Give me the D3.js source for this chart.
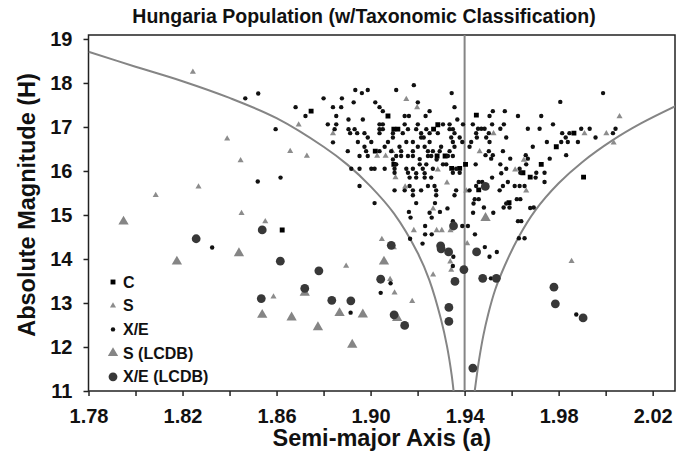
<!DOCTYPE html>
<html>
<head>
<meta charset="utf-8">
<script src="https://cdn.jsdelivr.net/npm/d3@7"></script>
<style>
  body { margin: 0; background: #fff; }
  svg text { font-family: "Liberation Sans", Arial, sans-serif; }
</style>
</head>
<body>
<div id="chart"></div>
<script>
// series values: [semi-major axis a, absolute magnitude H]
var seriesC = [
  [1.8747,17.36],[1.9074,17.25],[1.9099,16.95],[1.9116,16.95],[1.9268,16.95],[1.9286,17.05],
  [1.9020,16.45],[1.9099,16.15],[1.9283,16.34],[1.9317,16.34],[1.9345,16.06],[1.9379,16.06],
  [1.9450,17.27],[1.9865,16.86],[1.9790,16.55],[1.9726,16.15],[1.9679,15.86],[1.9648,15.96],
  [1.9906,15.86],[1.9404,16.15],[1.9589,15.28],[1.9460,15.57],[1.8624,14.66]
];
var seriesS = [
  [1.8244,18.25],[1.8390,16.73],[1.8447,16.24],[1.8268,15.64],[1.8086,15.45],[1.8658,16.45],
  [1.8729,16.34],[1.8694,17.05],[1.8840,16.85],[1.8451,15.04],[1.8552,14.85],[1.8587,13.14],
  [1.8896,13.84],[1.9048,14.45],[1.9083,13.54],[1.9102,13.23],[1.9099,14.26],[1.9177,13.04],
  [1.9266,13.64],[1.9184,14.65],[1.9281,14.65],[1.9303,14.65],[1.9340,14.65],[1.9266,15.14],
  [1.9339,13.94],[1.9343,13.75],[1.9411,14.35],[1.9855,13.95],[1.9152,17.63],[1.9198,17.44],
  [1.9028,16.34],[1.9064,16.34],[1.9092,16.45],[1.9106,15.85],[1.9286,16.03],[1.9325,15.73],
  [1.9147,15.64],[1.9407,15.55],[1.9523,16.85],[1.9464,16.44],[1.9652,16.25],[1.9662,15.55],
  [2.0003,16.85],[2.0059,17.24],[2.0034,16.64],[1.9910,16.85],[1.9615,16.03]
];
var seriesXE = [
  [1.8467,17.65],[1.8522,17.76],[1.8596,16.95],[1.8520,15.76],[1.8617,15.85],[1.8681,17.45],
  [1.8723,17.25],[1.8800,17.65],[1.8840,17.45],[1.8875,17.45],[1.8818,17.06],[1.8854,17.06],
  [1.8854,17.25],[1.8847,16.95],[1.8903,16.45],[1.8840,16.65],[1.8326,14.26],
  [1.9017,15.27],[1.8915,12.78],[1.9043,13.23],[1.9085,13.45],[1.9168,14.46],[1.9163,15.07],
  [1.9170,14.94],[1.9221,14.35],[1.9232,14.75],[1.9260,14.56],[1.9232,14.56],[1.9260,14.94],
  [1.9295,15.07],[1.9274,15.27],[1.9327,15.15],[1.9350,14.86],[1.9352,14.05],[1.9350,13.84],
  [1.9390,14.75],[1.9414,14.75],[1.9194,15.27],
  [1.9251,15.05],[1.9438,15.26],[1.9482,15.17],[1.9522,15.05],[1.9436,15.05],[1.9566,15.17],
  [1.9591,15.17],[1.9577,15.26],[1.9627,14.86],[1.9641,14.86],[1.9631,14.47],[1.9655,14.47],
  [1.9486,14.27],[1.9506,14.05],[1.9537,14.16],[1.9444,14.56],[1.9512,13.56],[1.9694,15.17],
  [1.9875,12.74],[1.9443,15.36],[1.9460,15.36],[1.9622,15.36],[1.9637,15.36],[1.9679,15.16],
  [1.9184,17.95],[1.8935,17.84],[1.8988,17.84],[1.9109,17.84],[1.8963,17.77],[1.9345,17.77],
  [1.8878,17.65],[1.8928,17.56],[1.9020,17.56],[1.9201,17.56],[1.9038,17.45],[1.9357,17.45],
  [1.9052,17.36],[1.9251,17.36],[1.9145,17.25],[1.9163,17.25],[1.9234,17.25],
  [1.8906,17.17],[1.8967,17.17],[1.9369,17.17],
  [1.9038,17.06],[1.9052,17.06],[1.9145,17.06],[1.9201,17.06],[1.9308,17.06],[1.9336,17.06],[1.9393,17.06],
  [1.8906,16.95],[1.8932,16.95],[1.9038,16.95],[1.9052,16.95],[1.9159,16.95],[1.9194,16.95],
  [1.9237,16.95],[1.9336,16.95],[1.9350,16.95],
  [1.8913,16.86],[1.8943,16.86],[1.8974,16.86],[1.9038,16.86],[1.9095,16.86],[1.9137,16.86],
  [1.9215,16.86],[1.9251,16.86],[1.9286,16.86],[1.9357,16.86],
  [1.8988,16.76],[1.9095,16.76],[1.9215,16.76],[1.9226,16.76],[1.9343,16.76],[1.9379,16.76],
  [1.8946,16.66],[1.9003,16.66],[1.9074,16.66],[1.9152,16.66],[1.9180,16.66],[1.9251,16.66],
  [1.9350,16.66],[1.9390,16.66],
  [1.8974,16.55],[1.9060,16.55],[1.9123,16.55],[1.9201,16.55],[1.9230,16.55],[1.9300,16.55],[1.9357,16.55],
  [1.8981,16.45],[1.9038,16.45],[1.9088,16.45],[1.9130,16.45],[1.9180,16.45],[1.9244,16.45],
  [1.9265,16.45],[1.9294,16.45],[1.9336,16.45],
  [1.8953,16.34],[1.8988,16.34],[1.9109,16.34],[1.9130,16.34],[1.9159,16.34],[1.9180,16.34],
  [1.9244,16.34],[1.9258,16.34],[1.9329,16.34],[1.9350,16.34],
  [1.9095,16.26],[1.9209,16.27],[1.9281,16.26],
  [1.9109,16.15],[1.9209,16.15],[1.9237,16.15],[1.9308,16.15],[1.9322,16.15],
  [1.8918,16.05],[1.8953,16.05],[1.9003,16.05],[1.9017,16.05],[1.9060,16.05],[1.9102,16.05],
  [1.9152,16.05],[1.9180,16.05],[1.9222,16.05],[1.9265,16.05],[1.9364,16.05],
  [1.9102,15.96],[1.9159,15.96],[1.9194,15.95],[1.9230,15.95],[1.9350,15.96],[1.9379,15.96],
  [1.9166,15.85],[1.9194,15.85],[1.9230,15.85],[1.9258,15.85],
  [1.8953,15.66],[1.9166,15.66],[1.9244,15.66],[1.9272,15.66],
  [1.9102,15.56],[1.9145,15.56],[1.9180,15.56],[1.9215,15.56],[1.9279,15.56],[1.9364,15.56],
  [1.9180,15.45],[1.9279,15.45],[1.9357,15.45],
  [1.9989,17.77],[1.9807,17.57],[1.9520,17.36],[1.9571,17.36],[1.9506,17.25],[1.9627,17.25],[1.9726,17.25],
  [1.9435,17.06],[1.9517,17.06],[1.9567,17.06],[1.9776,17.06],
  [1.9457,16.96],[1.9471,16.96],[1.9485,16.96],[1.9552,16.96],[1.9669,16.96],[1.9719,16.96],
  [1.9896,16.96],[1.9932,16.96],[2.0042,16.96],
  [1.9449,16.86],[1.9503,16.86],[1.9815,16.86],[1.9846,16.86],[2.0031,16.86],
  [1.9452,16.76],[1.9492,16.76],[1.9577,16.76],[1.9830,16.76],[1.9957,16.76],
  [1.9428,16.66],[1.9506,16.66],[1.9750,16.66],[1.9811,16.66],[1.9839,16.66],[1.9882,16.66],
  [1.9421,16.55],[1.9690,16.55],[1.9503,16.45],[1.9563,16.45],
  [1.9832,16.36],[1.9489,16.36],[1.9520,16.36],[1.9660,16.36],
  [1.9513,16.28],[1.9594,16.28],[1.9669,16.28],[1.9762,16.28],
  [1.9447,16.15],[1.9552,16.15],[1.9662,16.15],[1.9577,16.05],[1.9634,16.05],
  [1.9637,15.96],[1.9705,15.96],[1.9556,15.95],[1.9740,15.96],
  [1.9517,15.85],[1.9702,15.85],
  [1.9740,15.75],[1.9584,15.75],[1.9475,15.75],[1.9460,15.75],
  [1.9449,15.66],[1.9613,15.66],[1.9634,15.66],[1.9655,15.66],[1.9563,15.66],
  [1.9421,15.56],[1.9549,15.56]
];
var seriesSLcdb = [
  [1.7949,14.85],[1.8176,13.94],[1.8440,14.13],[1.8539,12.73],[1.8664,12.67],[1.8776,12.45],
  [1.8720,13.23],[1.8868,12.77],[1.8967,12.74],[1.9057,13.94],[1.9113,12.66],[1.8922,12.05],
  [1.9489,14.93]
];
var seriesXELcdb = [
  [1.8258,14.46],[1.8539,14.66],[1.8616,13.95],[1.8780,13.73],[1.8720,13.33],[1.8535,13.10],
  [1.8835,13.06],[1.8916,13.05],[1.9088,14.31],[1.9043,13.54],[1.9100,12.73],[1.9145,12.49],
  [1.9298,14.30],[1.9300,14.23],[1.9332,14.16],[1.9353,14.75],[1.9359,13.49],[1.9397,13.76],
  [1.9333,12.90],[1.9333,12.58],[1.9451,14.16],[1.9477,13.56],[1.9535,13.56],[1.9435,11.52],
  [1.9780,13.36],[1.9786,12.98],[1.9904,12.66],[1.9488,15.65]
];
// envelope curves and the centre line
var leftCurve = [
  [1.78,18.71],[1.80,18.37],[1.82,18.04],[1.84,17.66],[1.86,17.20],[1.88,16.55],
  [1.89,16.15],[1.90,15.65],[1.91,15.03],[1.92,14.14],[1.925,13.52],[1.93,12.62],
  [1.9325,12.02],[1.9345,11.36],[1.9353,11.0]
];
var rightCurve = [
  [1.9443,11.0],[1.945,11.28],[1.946,11.66],[1.948,12.27],[1.950,12.74],[1.953,13.30],
  [1.957,13.84],[1.963,14.50],[1.970,15.10],[1.980,15.72],[1.990,16.20],[2.003,16.70],
  [2.015,17.08],[2.030,17.48]
];
var centreA = 1.94;

var xTicks = [1.78,1.80,1.82,1.84,1.86,1.88,1.90,1.92,1.94,1.96,1.98,2.00,2.02];
var xLabelled = [1.78,1.82,1.86,1.90,1.94,1.98,2.02];
var yTicks = [11,12,13,14,15,16,17,18,19];
var legendLabels = ["C", "S", "X/E", "S (LCDB)", "X/E (LCDB)"];

var width = 687, height = 460;
var plot = {left: 88.5, right: 675, top: 35, bottom: 391};

var x = d3.scaleLinear().domain([1.78, 2.0295]).range([plot.left, plot.right]);
var y = d3.scaleLinear().domain([11, 19.09]).range([plot.bottom, plot.top]);

var svg = d3.select('#chart')
    .append('svg')
        .attr('width', width)
        .attr('height', height);

svg.append('defs').append('clipPath')
    .attr('id', 'plotclip')
  .append('rect')
    .attr('x', plot.left).attr('y', plot.top)
    .attr('width', plot.right - plot.left)
    .attr('height', plot.bottom - plot.top);

// axes
var xAxis = d3.axisBottom(x)
    .tickValues(xTicks)
    .tickSize(5)
    .tickPadding(13)
    .tickFormat(function (d) {
        return xLabelled.some(function (v) { return Math.abs(v - d) < 1e-9; }) ? d3.format('.2f')(d) : '';
    });
var yAxis = d3.axisLeft(y)
    .tickValues(yTicks)
    .tickSize(5)
    .tickPadding(11)
    .tickFormat(d3.format('d'));

var gx = svg.append('g')
    .attr('transform', 'translate(0,' + plot.bottom + ')')
    .call(xAxis);
var gy = svg.append('g')
    .attr('transform', 'translate(' + plot.left + ',0)')
    .call(yAxis);

[gx, gy].forEach(function (g) {
    g.select('.domain').remove();
    g.selectAll('line').attr('stroke', '#222').attr('stroke-width', 1.5);
    g.selectAll('text')
        .attr('font-size', 20)
        .attr('font-weight', 'bold')
        .attr('fill', '#111')
        .style('font-family', '"Liberation Sans", Arial, sans-serif');
});

// frame
svg.append('rect')
    .attr('x', plot.left).attr('y', plot.top)
    .attr('width', plot.right - plot.left)
    .attr('height', plot.bottom - plot.top)
    .attr('fill', 'none')
    .attr('stroke', '#222')
    .attr('stroke-width', 1.5);

var chart = svg.append('g').attr('clip-path', 'url(#plotclip)');

var line = d3.line()
    .x(function (d) { return x(d[0]); })
    .y(function (d) { return y(d[1]); })
    .curve(d3.curveCatmullRom.alpha(0.5));

[leftCurve, rightCurve].forEach(function (c) {
    chart.append('path')
        .datum(c)
        .attr('d', line)
        .attr('fill', 'none')
        .attr('stroke', '#858585')
        .attr('stroke-width', 2);
});

chart.append('line')
    .attr('x1', x(centreA)).attr('x2', x(centreA))
    .attr('y1', plot.top).attr('y2', plot.bottom)
    .attr('stroke', '#858585')
    .attr('stroke-width', 2);

// marker styles per series
var tri = function (s) { return d3.symbol().type(d3.symbolTriangle).size(s)(); };
var sq = d3.symbol().type(d3.symbolSquare).size(24)();

function drawPath(data, pathD, fill, cls) {
    chart.selectAll('.' + cls)
        .data(data)
        .enter()
        .append('path')
            .attr('class', cls)
            .attr('d', pathD)
            .attr('fill', fill)
            .attr('transform', function (d) {
                return 'translate(' + x(d[0]) + ',' + y(d[1]) + ')';
            });
}
function drawDots(data, r, fill, cls) {
    chart.selectAll('.' + cls)
        .data(data)
        .enter()
        .append('circle')
            .attr('class', cls)
            .attr('cx', function (d) { return x(d[0]); })
            .attr('cy', function (d) { return y(d[1]); })
            .attr('r', r)
            .attr('fill', fill);
}

drawPath(seriesC, sq, '#000', 'ptC');
drawPath(seriesS, tri(16), '#8c8c8c', 'ptS');
drawDots(seriesXE, 2.2, '#111', 'ptXE');
drawPath(seriesSLcdb, tri(46), '#858585', 'ptSL');
drawDots(seriesXELcdb, 4.4, '#383838', 'ptXEL');

// legend
var legendMarks = [
    function (g) { g.append('path').attr('d', sq).attr('fill', '#000'); },
    function (g) { g.append('path').attr('d', tri(16)).attr('fill', '#8c8c8c'); },
    function (g) { g.append('circle').attr('r', 2.2).attr('fill', '#111'); },
    function (g) { g.append('path').attr('d', tri(46)).attr('fill', '#858585'); },
    function (g) { g.append('circle').attr('r', 4.4).attr('fill', '#383838'); }
];
var legend = svg.selectAll('.legend')
    .data(legendLabels)
    .enter()
    .append('g')
        .attr('class', 'legend')
        .attr('transform', function (d, i) { return 'translate(113,' + (282 + i * 23.7) + ')'; });
legend.each(function (d, i) { legendMarks[i](d3.select(this)); });
legend.append('text')
    .attr('x', 10)
    .attr('y', 5.6)
    .attr('font-size', 16)
    .attr('font-weight', 'bold')
    .attr('fill', '#111')
    .text(function (d) { return d; });

// titles
svg.append('text')
    .attr('x', 364).attr('y', 23)
    .attr('text-anchor', 'middle')
    .attr('font-size', 19.5)
    .attr('font-weight', 'bold')
    .attr('fill', '#111')
    .text('Hungaria Population (w/Taxonomic Classification)');

svg.append('text')
    .attr('x', (plot.left + plot.right) / 2).attr('y', 446)
    .attr('text-anchor', 'middle')
    .attr('font-size', 23.5)
    .attr('font-weight', 'bold')
    .attr('fill', '#111')
    .text('Semi-major Axis (a)');

svg.append('text')
    .attr('transform', 'translate(35,205) rotate(-90)')
    .attr('text-anchor', 'middle')
    .attr('font-size', 23.5)
    .attr('font-weight', 'bold')
    .attr('fill', '#111')
    .text('Absolute Magnitude (H)');
</script>
</body>
</html>
